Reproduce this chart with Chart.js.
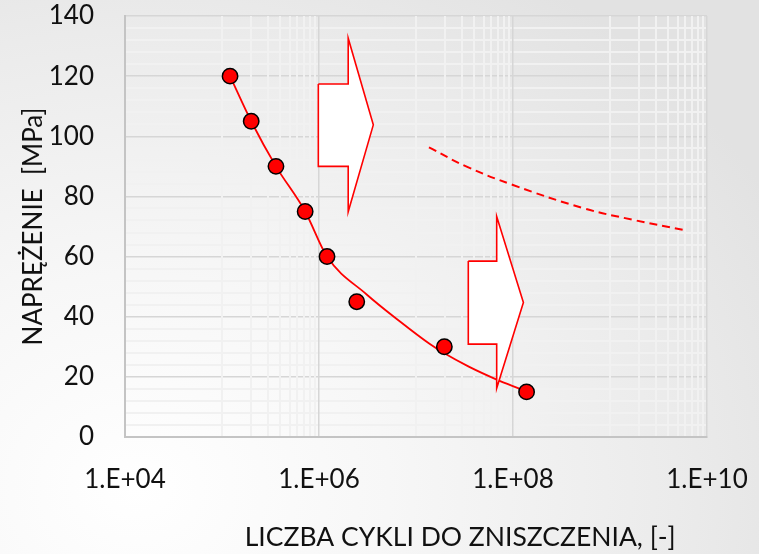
<!DOCTYPE html>
<html>
<head>
<meta charset="utf-8">
<script src="https://cdn.jsdelivr.net/npm/chart.js@4.4.1/dist/chart.umd.min.js"></script>
<style>
    html, body { margin: 0; padding: 0; }
    #chart {
        display: block;
        background: radial-gradient(ellipse 95% 110% at 18% 88%, #ffffff 0%, #f7f7f7 35%, #ebebeb 75%, #e2e2e2 100%);
    }
</style>
</head>
<body>
<canvas id="chart" width="759" height="554"></canvas>
<script>
// measured points
const cycles = [1.21e5, 2.0e5, 3.6e5, 7.2e5, 1.21e6, 2.45e6, 1.96e7, 1.38e8];
const stress = [120, 105, 90, 75, 60, 45, 30, 15];

// fitted curve
const fitCycles = [1.21e5, 2.0e5, 3.6e5, 7.2e5, 1.21e6, 3.1e6, 6.84e6, 1.39e7, 1.94e7, 3.5e7, 6.79e7, 1.18e8];
const fitStress = [120, 105, 90, 75, 60, 47.4, 38.4, 30.9, 27.9, 23.4, 19.1, 16.0];

// dashed curve
const dashCycles = [1.36e7, 3.33e7, 1.0e8, 5.3e8, 1.74e9, 5.9e9];
const dashStress = [96.3, 89.9, 83.8, 76.1, 72.2, 68.8];

// block arrows (outline vertices in data units)
const arrow1Cycles = [9.84e5, 2.0e6, 2.0e6, 3.63e6, 2.0e6, 2.0e6, 9.84e5, 9.84e5];
const arrow1Stress = [117.4, 117.4, 132.6, 103.8, 74.9, 90.0, 90.0, 117.4];
const arrow2Cycles = [3.46e7, 6.79e7, 6.79e7, 1.28e8, 6.79e7, 6.79e7, 3.46e7, 3.46e7];
const arrow2Stress = [58.5, 58.5, 73.3, 44.7, 16.2, 30.9, 30.9, 58.5];

// axes
const xLabelValues = [1e4, 1e6, 1e8, 1e10];
const xTickLabels = ['1.E+04', '1.E+06', '1.E+08', '1.E+10'];
const yTickLabels = [0, 20, 40, 60, 80, 100, 120, 140];

const xTitle = 'LICZBA CYKLI DO ZNISZCZENIA, [-]';
const yTitle = 'NAPRĘŻENIE  [MPa]';

const zip = (xs, ys) => xs.map((x, i) => ({x: x, y: ys[i]}));

const FONT = 'Lato';
const majorGrid = '#d6d6d6';
const minorGrid = '#f1f1f1';

// grid positions for the log axis: major every 2 decades, minor inside odd decades
function logGridValues() {
    const vals = [];
    for (let e = 4; e <= 10; e++) {
        vals.push(Math.pow(10, e));
        if (e % 2 === 1 && e < 10) {
            for (let k = 2; k <= 9; k++) vals.push(k * Math.pow(10, e));
        }
    }
    return vals;
}
const isXMajor = (v) => xLabelValues.some(m => Math.abs(m - v) / m < 1e-6);

const xTitlePlugin = {
    id: 'xTitle',
    afterDraw(chart) {
        const {ctx, chartArea} = chart;
        ctx.save();
        ctx.font = '26.5px ' + FONT;
        ctx.fillStyle = '#111';
        ctx.textAlign = 'center';
        ctx.textBaseline = 'middle';
        const cx = chartArea.left + (chartArea.right - chartArea.left) * 0.576;
        ctx.fillText(xTitle, cx, chart.height - 17);
        ctx.restore();
    }
};

const arrowStyle = {
    showLine: true,
    fill: 'shape',
    backgroundColor: '#ffffff',
    borderColor: '#ff0000',
    borderWidth: 1.6,
    pointRadius: 0,
    tension: 0,
    order: 1
};

new Chart(document.getElementById('chart'), {
    type: 'scatter',
    data: {
        datasets: [
            {
                data: zip(cycles, stress),
                pointRadius: 7.7,
                pointBackgroundColor: '#ff0000',
                pointBorderColor: '#000000',
                pointBorderWidth: 1.5,
                order: 0
            },
            Object.assign({data: zip(arrow1Cycles, arrow1Stress)}, arrowStyle),
            Object.assign({data: zip(arrow2Cycles, arrow2Stress)}, arrowStyle),
            {
                data: zip(fitCycles, fitStress),
                showLine: true,
                borderColor: '#ff0000',
                borderWidth: 1.8,
                pointRadius: 0,
                cubicInterpolationMode: 'monotone',
                order: 2
            },
            {
                data: zip(dashCycles, dashStress),
                showLine: true,
                borderColor: '#ff0000',
                borderWidth: 2,
                borderDash: [8, 5],
                pointRadius: 0,
                tension: 0.4,
                order: 2
            }
        ]
    },
    options: {
        responsive: false,
        animation: false,
        events: [],
        layout: { padding: { top: 16, right: 52, left: 0, bottom: 0 } },
        plugins: { legend: { display: false }, tooltip: { enabled: false } },
        scales: {
            y: {
                min: 0,
                max: 140,
                afterFit: (scale) => {
                    scale.width = 125;
                    scale.paddingTop = 0;
                    scale.paddingBottom = 0;
                },
                ticks: {
                    stepSize: 4,
                    autoSkip: false,
                    padding: 31,
                    color: '#111',
                    font: { family: FONT, size: 26 },
                    callback: (v) => yTickLabels.includes(v) ? String(v) : ''
                },
                grid: {
                    z: -1,
                    drawTicks: false,
                    lineWidth: (c) => yTickLabels.includes(c.tick.value) ? 1.5 : 2,
                    color: (c) => yTickLabels.includes(c.tick.value) ? majorGrid : minorGrid
                },
                border: { color: '#c4c4c4', width: 2 },
                title: {
                    display: true,
                    text: yTitle,
                    color: '#111',
                    font: { family: FONT, size: 26 },
                    padding: { top: 18, bottom: 0 }
                }
            },
            x: {
                type: 'logarithmic',
                min: 1e4,
                max: 1e10,
                afterBuildTicks: (scale) => {
                    scale.ticks = logGridValues().map(v => ({value: v}));
                },
                afterFit: (scale) => {
                    scale.height = 117;
                    scale.paddingLeft = 0;
                    scale.paddingRight = 0;
                },
                ticks: {
                    autoSkip: false,
                    maxRotation: 0,
                    padding: 27,
                    color: '#111',
                    font: { family: FONT, size: 26 },
                    callback: (v) => {
                        const i = xLabelValues.findIndex(m => Math.abs(m - v) / m < 1e-6);
                        return i >= 0 ? xTickLabels[i] : '';
                    }
                },
                grid: {
                    drawTicks: false,
                    lineWidth: (c) => isXMajor(c.tick.value) ? 1.5 : 2,
                    color: (c) => isXMajor(c.tick.value) ? majorGrid : minorGrid
                },
                border: { color: '#c4c4c4', width: 2 }
            }
        }
    },
    plugins: [xTitlePlugin]
});
</script>
</body>
</html>
